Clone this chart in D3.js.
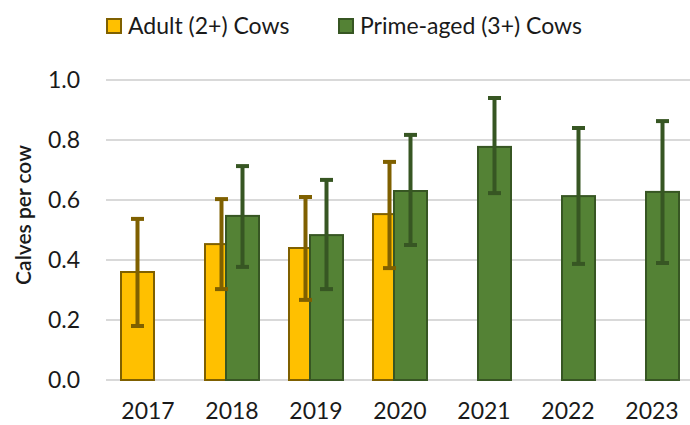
<!DOCTYPE html>
<html>
<head>
<meta charset="utf-8">
<script src="https://cdn.jsdelivr.net/npm/d3@7"></script>
<style>
  body { margin: 0; background: #fff; }
  text { font-family: Lato, "Open Sans", sans-serif; fill: #1a1a1a; }
</style>
</head>
<body>
<div id="chart"></div>
<script>
// data
const years = ["2017", "2018", "2019", "2020", "2021", "2022", "2023"];
const seriesNames = ["Adult (2+) Cows", "Prime-aged (3+) Cows"];
const adult = [0.36, 0.453, 0.44, 0.553, null, null, null];
const adultLow = [0.18, 0.303, 0.267, 0.373, null, null, null];
const adultHigh = [0.537, 0.603, 0.61, 0.727, null, null, null];
const prime = [null, 0.547, 0.483, 0.63, 0.777, 0.613, 0.627];
const primeLow = [null, 0.377, 0.303, 0.45, 0.623, 0.387, 0.39];
const primeHigh = [null, 0.713, 0.667, 0.817, 0.94, 0.84, 0.863];
const yTicks = [0, 0.2, 0.4, 0.6, 0.8, 1.0];

const W = 690, H = 425;
const margin = { top: 80, right: -4, bottom: 45, left: 106 };
const width = W - margin.left - margin.right;
const height = H - margin.top - margin.bottom;

const fills = ["#FFC000", "#548235"];
const strokes = ["#7F6000", "#375623"];

const svg = d3.select("#chart").append("svg")
  .attr("width", W).attr("height", H);

const g = svg.append("g")
  .attr("transform", "translate(" + margin.left + "," + margin.top + ")");

const x = d3.scaleBand(years, [0, width]);
const y = d3.scaleLinear([0, 1], [height, 0]);

// gridlines
g.append("g")
  .selectAll("line")
  .data(yTicks)
  .join("line")
  .attr("x1", 0).attr("x2", width)
  .attr("y1", d => y(d)).attr("y2", d => y(d))
  .attr("stroke", "#d9d9d9")
  .attr("stroke-width", 2);

// y tick labels
g.append("g")
  .selectAll("text")
  .data(yTicks)
  .join("text")
  .attr("x", -26)
  .attr("y", d => y(d))
  .attr("dy", "0.35em")
  .attr("text-anchor", "end")
  .style("font-size", "23px")
  .text(d => d.toFixed(1));

// x labels
g.append("g")
  .selectAll("text")
  .data(years)
  .join("text")
  .attr("x", d => x(d) + x.bandwidth() / 2)
  .attr("y", height + 39)
  .attr("text-anchor", "middle")
  .style("font-size", "23px")
  .text(d => d);

// y title
svg.append("text")
  .attr("transform", "translate(31,215) rotate(-90)")
  .attr("text-anchor", "middle")
  .style("font-size", "21px")
  .style("font-weight", 600)
  .text("Calves per cow");

// bars
const barW = 33;
const offset = 10.5;
const series = [
  { vals: adult, lo: adultLow, hi: adultHigh, dx: -offset },
  { vals: prime, lo: primeLow, hi: primeHigh, dx: offset }
];

series.forEach((s, k) => {
  const rows = years.map((yr, i) => ({ yr, v: s.vals[i], lo: s.lo[i], hi: s.hi[i] }))
    .filter(d => d.v != null);
  const cx = d => x(d.yr) + x.bandwidth() / 2 + s.dx;

  g.append("g")
    .selectAll("rect")
    .data(rows)
    .join("rect")
    .attr("x", d => cx(d) - barW / 2)
    .attr("y", d => y(d.v))
    .attr("width", barW)
    .attr("height", d => y(0) - y(d.v))
    .attr("fill", fills[k])
    .attr("stroke", strokes[k])
    .attr("stroke-width", 2);

  s.rows = rows;
  s.cx = cx;
});

// error bars on top
series.forEach((s, k) => {
  const eb = g.append("g")
    .attr("stroke", strokes[k])
    .attr("stroke-width", 4);
  eb.selectAll(".stem")
    .data(s.rows)
    .join("line")
    .attr("class", "stem")
    .attr("x1", s.cx).attr("x2", s.cx)
    .attr("y1", d => y(d.lo)).attr("y2", d => y(d.hi));
  ["lo", "hi"].forEach(key => {
    eb.selectAll(".cap-" + key)
      .data(s.rows)
      .join("line")
      .attr("class", "cap-" + key)
      .attr("x1", d => s.cx(d) - 6.5).attr("x2", d => s.cx(d) + 6.5)
      .attr("y1", d => y(d[key])).attr("y2", d => y(d[key]));
  });
});

// legend
const legendX = [106, 338];
const legend = svg.append("g");
seriesNames.forEach((name, k) => {
  legend.append("rect")
    .attr("x", legendX[k] + 1).attr("y", 19)
    .attr("width", 14).attr("height", 14)
    .attr("fill", fills[k])
    .attr("stroke", strokes[k])
    .attr("stroke-width", 2);
  legend.append("text")
    .attr("x", legendX[k] + 22)
    .attr("y", 26)
    .attr("dy", "0.35em")
    .style("font-size", "23px")
    .text(name);
});
</script>
</body>
</html>
